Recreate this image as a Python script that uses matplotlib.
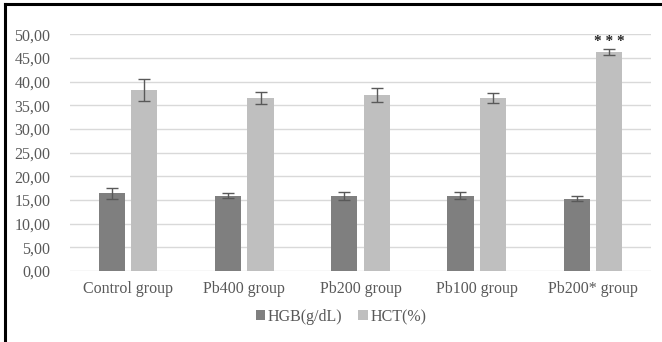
import matplotlib
matplotlib.use("Agg")
import matplotlib.pyplot as plt
import numpy as np
from matplotlib.lines import Line2D

groups = ["Control group", "Pb400 group", "Pb200 group", "Pb100 group", "Pb200* group"]
hgb = [16.4, 15.9, 15.8, 15.9, 15.3]
hgb_err = [1.2, 0.5, 0.8, 0.7, 0.5]
hct = [38.2, 36.5, 37.1, 36.5, 46.2]
hct_err = [2.3, 1.3, 1.5, 1.05, 0.6]
y_ticks = [0, 5, 10, 15, 20, 25, 30, 35, 40, 45, 50]

plt.rcParams['font.family'] = ['Liberation Serif', 'DejaVu Serif']

fig = plt.figure(figsize=(6.62, 3.42), dpi=100)
ax = fig.add_axes([70 / 662, 71 / 342, 581 / 662, 236.7 / 342])

x = np.arange(len(groups))
w = 0.225
err_kw = dict(ecolor="#595959", elinewidth=1, capsize=4, capthick=1)
ax.bar(x - 0.14, hgb, w, yerr=hgb_err, color="#7f7f7f", label="HGB(g/dL)",
       error_kw=err_kw, zorder=3)
ax.bar(x + 0.14, hct, w, yerr=hct_err, color="#bfbfbf", label="HCT(%)",
       error_kw=err_kw, zorder=3)

# significance mark over the last HCT bar
ax.text(x[-1] + 0.14, hct[-1] + hct_err[-1] + 0.3, "* * *", ha="center", va="bottom",
        fontsize=11, fontweight="bold", color="#262626")

ax.set_xlim(-0.5, len(groups) - 0.5)
ax.set_ylim(0, 50)
ax.set_yticks(y_ticks)
ax.set_yticklabels([("%.2f" % v).replace(".", ",") for v in y_ticks])
ax.set_xticks(x)
ax.set_xticklabels(groups)
ax.yaxis.grid(True, color="#d9d9d9", linewidth=1, zorder=0)
ax.set_axisbelow(True)
for s in ax.spines.values():
    s.set_visible(False)
ax.tick_params(axis="both", length=0, labelsize=11.5, colors="#595959")
ax.tick_params(axis="x", pad=7)
ax.tick_params(axis="y", pad=14)

ax.legend(loc="center", bbox_to_anchor=(341 / 662, 1 - 317 / 342),
          bbox_transform=fig.transFigure, ncol=2, frameon=False, fontsize=11.5,
          handlelength=0.6, handleheight=0.6, handletextpad=0.15, columnspacing=1.0,
          labelcolor="#595959")

# outer frame along the left and top edges
fig.add_artist(Line2D([5 / 662, 5 / 662], [0, 1 - 4 / 342], transform=fig.transFigure,
                      color="black", linewidth=2.2))
fig.add_artist(Line2D([5 / 662, 1], [1 - 4 / 342, 1 - 4 / 342], transform=fig.transFigure,
                      color="black", linewidth=2.2))

fig.savefig("out.png", dpi=100)
